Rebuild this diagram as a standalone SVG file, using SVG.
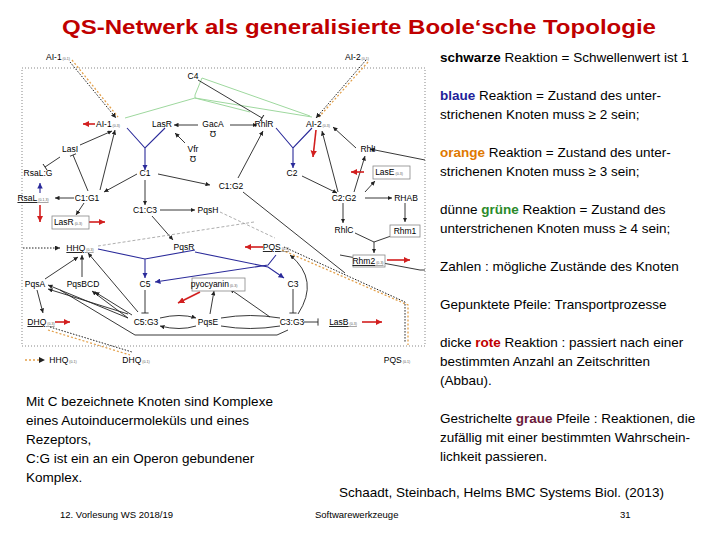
<svg xmlns="http://www.w3.org/2000/svg" width="720" height="540" viewBox="0 0 720 540">
<defs>
<style>
text{font-family:"Liberation Sans",Arial,sans-serif;fill:#000}
.n{font-size:8.5px;text-anchor:middle}
.s{font-size:3.5px;fill:#555}
.t{font-size:13.5px}
.k{stroke:#222;stroke-width:0.9;fill:none}
.b{stroke:#2a2a9a;stroke-width:1.1;fill:none}
.g{stroke:#9ed89e;stroke-width:1;fill:none}
.r{stroke:#d21f1f;stroke-width:1.6;fill:none}
.gr{stroke:#999;stroke-width:0.8;fill:none;stroke-dasharray:3,2}
.o{stroke:#e3a04a;stroke-width:1.3;fill:none;stroke-dasharray:2,2}
.d{stroke:#222;stroke-width:1;fill:none;stroke-dasharray:1.5,1.5}
.box{fill:#fff;stroke:#888;stroke-width:0.8}
</style>
<marker id="a" viewBox="0 0 6 6" refX="6" refY="3" markerWidth="5" markerHeight="5" orient="auto"><path d="M0,0L6,3L0,6z" fill="#222"/></marker>
<marker id="ar" viewBox="0 0 6 6" refX="6" refY="3" markerWidth="4" markerHeight="4" orient="auto"><path d="M0,0L6,3L0,6z" fill="#d21f1f"/></marker>
<marker id="ab" viewBox="0 0 6 6" refX="6" refY="3" markerWidth="5" markerHeight="5" orient="auto"><path d="M0,0L6,3L0,6z" fill="#2a2a9a"/></marker>
<marker id="tb" viewBox="0 0 2 8" refX="1" refY="4" markerWidth="2" markerHeight="8" orient="auto"><path d="M1,0V8" stroke="#222"/></marker>
</defs>
<rect width="720" height="540" fill="#fff"/>
<text x="62" y="34" textLength="594" lengthAdjust="spacingAndGlyphs" style="font-size:21px;font-weight:bold;fill:#c00000">QS-Netwerk als generalisierte Boole‘sche Topologie</text>
<rect x="22" y="68" width="403" height="278" fill="none" stroke="#555" stroke-width="0.7" stroke-dasharray="1,2"/>
<g id="connectors">
<path class="o" d="M72,60L118,117"/><path class="d" d="M70,62L116,118" marker-end="url(#a)"/>
<path class="o" d="M368,62L319,117"/><path class="d" d="M366,60L316,118" marker-end="url(#a)"/>
<path class="g" d="M125,118L195,98L250,112M195,98V95M195,95L202,78M195,98L312,117"/>
<path class="g" d="M202,78L310,116"/>
<path class="k" d="M198,80L262,118" marker-end="url(#tb)"/>
<path class="r" d="M95,124H83" marker-end="url(#ar)"/>
<path class="k" d="M198,125H174" marker-end="url(#a)"/><path class="k" d="M230,125H257" marker-end="url(#a)"/>
<path class="k" d="M185,143L175,133" marker-end="url(#a)"/>
<path class="b" d="M127,128L145,148L165,128M145,148V170" marker-end="url(#ab)"/>
<path class="b" d="M276,128L293,148L312,128M293,148V168" marker-end="url(#ab)"/>
<path class="r" d="M316,130L313,157" marker-end="url(#ar)"/>
<path class="k" d="M80,145L112,131" marker-end="url(#a)"/>
<path class="k" d="M100,190L115,130" marker-end="url(#a)"/>
<path class="k" d="M88,191L73,155" marker-end="url(#tb)"/>
<path class="k" d="M60,157L45,167" marker-end="url(#tb)"/>
<path class="b" d="M40,193V183" marker-end="url(#ab)"/>
<path class="k" d="M74,198H55" marker-end="url(#a)"/>
<path class="k" d="M137,174L104,192" marker-end="url(#a)"/>
<path class="k" d="M158,174L210,185" marker-end="url(#a)"/>
<path class="k" d="M145,180V205" marker-end="url(#a)"/>
<path class="k" d="M238,178L263,131" marker-end="url(#a)"/>
<path class="k" d="M243,192L345,273" />
<path class="k" d="M302,176L337,193" marker-end="url(#a)"/>
<path class="k" d="M338,192L322,131" marker-end="url(#a)"/>
<path class="k" d="M354,192L365,156" marker-end="url(#a)"/>
<path class="k" d="M365,192L375,181" marker-end="url(#a)"/>
<path class="k" d="M425,160L370,149" marker-end="url(#a)"/>
<path class="k" d="M356,148L333,127" marker-end="url(#a)"/>
<path class="r" d="M364,172H351" marker-end="url(#ar)"/>
<path class="k" d="M365,198H392" marker-end="url(#a)"/>
<path class="k" d="M343,203V223" marker-end="url(#a)"/><path class="k" d="M405,203V222" marker-end="url(#a)"/>
<path class="k" d="M355,233L374,242L391,236M374,242V253" marker-end="url(#a)"/>
<path class="r" d="M40,205V222" marker-end="url(#ar)"/>
<path class="k" d="M84,203L76,215" marker-end="url(#a)"/>
<path class="r" d="M88,222H105" marker-end="url(#ar)"/>
<path class="k" d="M160,210H195" stroke="#888" marker-end="url(#a)"/>
<path class="k" d="M152,216L173,240" marker-end="url(#a)"/>
<path class="gr" d="M220,212L275,238"/>
<path class="gr" d="M254,222L98,246"/>
<path class="d" d="M23,248H60" marker-end="url(#a)"/>
<path class="b" d="M98,249L145,259L195,250M145,259V278" marker-end="url(#ab)"/>
<path class="b" d="M195,252L268,267L284,278" marker-end="url(#ab)"/>
<path class="b" d="M276,255L268,265L155,282" marker-end="url(#ab)"/>
<path class="r" d="M263,247H245" marker-end="url(#ar)"/>
<path class="k" d="M340,255L420,270H425"/>
<path class="r" d="M387,260H410" marker-end="url(#ar)" stroke-width="0.8"/>
<path class="k" d="M82,277V255" marker-end="url(#a)"/>
<path class="k" d="M45,279L78,257" marker-end="url(#a)"/>
<path class="k" d="M37,290L43,313" marker-end="url(#a)"/>
<path class="k" d="M138,312L88,253" marker-end="url(#a)"/>
<path class="k" d="M128,314L48,289" marker-end="url(#a)"/><path class="k" d="M128,318L48,285" marker-end="url(#a)"/>
<path class="k" d="M132,315L95,292" marker-end="url(#a)"/><path class="k" d="M128,318L92,291" marker-end="url(#a)"/>
<path class="k" d="M145,290V313" marker-end="url(#tb)"/>
<path class="k" d="M160,318Q180,313 196,318" marker-end="url(#a)"/><path class="k" d="M196,326Q180,331 160,326" marker-end="url(#a)"/>
<path class="k" d="M210,314L214,291" marker-end="url(#a)"/>
<path class="r" d="M200,292L178,303" marker-end="url(#ar)"/>
<path class="k" d="M270,317L230,289" marker-end="url(#a)"/>
<path class="k" d="M221,318Q250,313 280,318M221,326Q250,331 280,326"/>
<path class="k" d="M293,289V313" marker-end="url(#tb)"/>
<path class="k" d="M298,314Q320,280 290,255" marker-end="url(#a)"/>
<path class="k" d="M288,330L277,335H135L60,290"/>
<path class="k" d="M304,322H318" stroke="#888" marker-end="url(#tb)"/>
<path class="r" d="M362,322H382" marker-end="url(#ar)" stroke-width="0.8"/>
<path class="r" d="M55,322H70" marker-end="url(#ar)" stroke-width="0.8"/>
<path class="o" d="M48,330L130,355"/><path class="d" d="M50,327L132,352"/>
<path class="o" d="M282,250L408,305V345"/><path class="d" d="M284,247L405,302V343"/>
<path class="o" d="M25,360H45" marker-end="url(#a)"/>
</g>
<g id="nodes" class="n">
<g id="AI1top"><text x="58" y="60">AI-1<tspan class="s"> (0-1)</tspan></text></g>
<g id="AI2top"><text x="357" y="60">AI-2<tspan class="s"> (0-1)</tspan></text></g>
<g id="C4"><text x="193" y="79">C4</text></g>
<g id="AI1"><text x="108" y="127">AI-1<tspan class="s"> (0-3)</tspan></text></g>
<g id="LasR"><text x="162" y="127">LasR</text></g>
<g id="GacA"><text x="213" y="127">GacA</text><text x="213" y="137">Ʊ</text></g>
<g id="RhlR"><text x="264" y="127">RhlR</text></g>
<g id="AI2"><text x="318" y="127">AI-2<tspan class="s"> (0-3)</tspan></text></g>
<g id="LasI"><text x="70" y="152">LasI</text></g>
<g id="Vfr"><text x="193" y="152">Vfr</text><text x="193" y="162">Ʊ</text></g>
<g id="RhlI"><text x="368" y="152">RhlI</text></g>
<g id="RsaLG"><text x="38" y="176">RsaL:G</text></g>
<g id="C1"><text x="145" y="176">C1</text></g>
<g id="C2"><text x="292" y="176">C2</text></g>
<g id="LasE"><rect class="box" x="373" y="166" width="37" height="13"/><text x="389" y="175">LasE<tspan class="s"> (0-3)</tspan></text></g>
<g id="RsaL"><text x="33" y="201" text-decoration="underline">RsaL<tspan class="s"> (0-1,3)</tspan></text></g>
<g id="C1G1"><text x="87" y="201">C1:G1</text></g>
<g id="C1G2"><text x="231" y="189">C1:G2</text></g>
<g id="C2G2"><text x="344" y="201">C2:G2</text></g>
<g id="RHAB"><text x="406" y="201">RHAB</text></g>
<g id="C1C3"><text x="145" y="213">C1:C3</text></g>
<g id="PqsH"><text x="208" y="213">PqsH</text></g>
<g id="LasR2"><rect class="box" x="52" y="216" width="37" height="13"/><text x="68" y="225">LasR<tspan class="s"> (0-3)</tspan></text></g>
<g id="RhlC"><text x="344" y="233">RhlC</text></g>
<g id="Rhm1"><rect class="box" x="390" y="225" width="30" height="12"/><text x="405" y="234">Rhm1</text></g>
<g id="HHQ"><text x="80" y="251" text-decoration="underline">HHQ<tspan class="s"> (0-3)</tspan></text></g>
<g id="PqsR"><text x="184" y="250">PqsR</text></g>
<g id="PQS"><text x="276" y="250" text-decoration="underline">PQS<tspan class="s"> (0-3)</tspan></text></g>
<g id="Rhm2"><rect class="box" x="353" y="255" width="32" height="12"/><text x="368" y="264" text-decoration="underline">Rhm2<tspan class="s"> (0-3)</tspan></text></g>
<g id="PqsA"><text x="35" y="287">PqsA</text></g>
<g id="PqsBCD"><text x="83" y="287">PqsBCD</text></g>
<g id="C5"><text x="145" y="287">C5</text></g>
<g id="pyocyanin"><rect class="box" x="192" y="278" width="53" height="13"/><text x="214" y="287">pyocyanin<tspan class="s"> (0-3)</tspan></text></g>
<g id="C3"><text x="293" y="287">C3</text></g>
<g id="DHQ"><text x="41" y="325" text-decoration="underline">DHQ<tspan class="s"> (0-3)</tspan></text></g>
<g id="C5G3"><text x="146" y="325">C5:G3</text></g>
<g id="PqsE"><text x="208" y="325">PqsE</text></g>
<g id="C3G3"><text x="292" y="325">C3:G3</text></g>
<g id="LasB"><text x="343" y="325" text-decoration="underline">LasB<tspan class="s"> (0-3)</tspan></text></g>
<g id="HHQb"><text x="63" y="363">HHQ<tspan class="s"> (0-1)</tspan></text></g>
<g id="DHQb"><text x="136" y="363">DHQ<tspan class="s"> (0-1)</tspan></text></g>
<g id="PQSb"><text x="397" y="363">PQS<tspan class="s"> (0-1)</tspan></text></g>
</g>
<g id="legend" class="t">
<text x="440" y="62"><tspan font-weight="bold">schwarze</tspan> Reaktion = Schwellenwert ist 1</text>
<text x="440" y="100"><tspan font-weight="bold" fill="#1f1f9a">blaue</tspan> Reaktion = Zustand des unter-</text>
<text x="440" y="119">strichenen Knoten muss  ≥ 2 sein;</text>
<text x="440" y="157"><tspan font-weight="bold" fill="#e07800">orange</tspan> Reaktion = Zustand des unter-</text>
<text x="440" y="176">strichenen Knoten muss  ≥ 3 sein;</text>
<text x="440" y="214">dünne <tspan font-weight="bold" fill="#2a8a2a">grüne</tspan> Reaktion = Zustand des</text>
<text x="440" y="233">unterstrichenen Knoten muss  ≥ 4 sein;</text>
<text x="440" y="271">Zahlen : mögliche Zustände des Knoten</text>
<text x="440" y="309">Gepunktete Pfeile: Transportprozesse</text>
<text x="440" y="347">dicke <tspan font-weight="bold" fill="#c00000">rote</tspan> Reaktion : passiert nach einer</text>
<text x="440" y="366">bestimmten Anzahl an Zeitschritten</text>
<text x="440" y="385">(Abbau).</text>
<text x="440" y="423">Gestrichelte <tspan font-weight="bold" fill="#6a1a3a">graue</tspan> Pfeile : Reaktionen, die</text>
<text x="440" y="442">zufällig mit einer bestimmten Wahrschein-</text>
<text x="440" y="461">lichkeit passieren.</text>
<text x="26" y="406">Mit C bezeichnete Knoten sind Komplexe</text>
<text x="26" y="425">eines Autoinducermoleküls und eines</text>
<text x="26" y="444">Rezeptors,</text>
<text x="26" y="463">C:G ist ein an ein Operon gebundener</text>
<text x="26" y="482">Komplex.</text>
<text x="339" y="497">Schaadt, Steinbach, Helms BMC Systems Biol. (2013)</text>
</g>
<g id="footer" style="font-size:9.5px">
<text x="60" y="518">12. Vorlesung WS 2018/19</text>
<text x="315" y="518">Softwarewerkzeuge</text>
<text x="620" y="518">31</text>
</g>
</svg>
